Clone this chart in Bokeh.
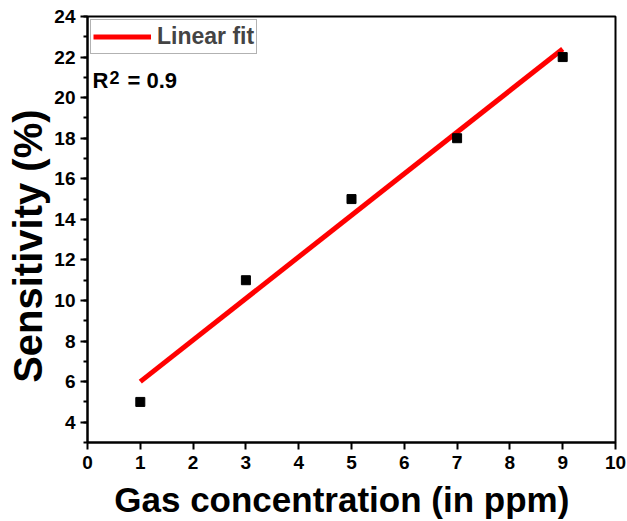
import numpy as np
from bokeh.plotting import figure
from bokeh.models import Range1d, Label, Legend, LegendItem, FixedTicker
from bokeh.embed import file_html
from bokeh.resources import INLINE

# Measured sensitivity versus gas concentration
concentration_ppm = [1, 3, 5, 7, 9]
sensitivity_pct = [5, 11, 15, 18, 22]
r_squared_text = "0.9"

x_ticks = list(range(0, 11))
y_ticks = list(range(4, 25, 2))
y_minor_ticks = list(range(3, 25, 1))

FONT = "Liberation Sans"
NBSP = "\u00a0"

p = figure(width=627, height=521, output_backend="svg", toolbar_location=None,
           x_range=Range1d(0, 10), y_range=Range1d(3, 24),
           min_border_left=87, min_border_right=12, min_border_top=16, min_border_bottom=79)
p.grid.visible = False
p.outline_line_color = "black"
p.outline_line_width = 2
p.background_fill_color = "white"
p.border_fill_color = "white"

# Least-squares linear fit through the measured points
slope, intercept = np.polyfit(concentration_ppm, sensitivity_pct, 1)
fit_x = [concentration_ppm[0], concentration_ppm[-1]]
fit_y = [slope * fx + intercept for fx in fit_x]
fit = p.line(fit_x, fit_y, line_color="#ff0000", line_width=5)

p.scatter(concentration_ppm, sensitivity_pct, marker="square", size=9,
          fill_color="black", line_color="black")

legend = Legend(items=[LegendItem(label="Linear fit", renderers=[fit])],
                location="top_left", border_line_color="#666666", border_line_width=1,
                label_text_font=FONT, label_text_font_style="bold",
                label_text_font_size="23px", glyph_width=58, glyph_height=29,
                label_height=29, padding=2, margin=3, spacing=0, label_standoff=6,
                background_fill_alpha=1.0)
p.add_layout(legend)

# R^2 annotation with a raised exponent (positions in pixels from the frame's bottom-left)
label_style = dict(x_units="screen", y_units="screen", text_font=FONT,
                   text_font_style="bold", text_color="black")
p.add_layout(Label(x=5, y=350, text="R", text_font_size="22px", **label_style))
p.add_layout(Label(x=22, y=359, text="2", text_font_size="18px", **label_style))
p.add_layout(Label(x=40, y=350, text="= " + r_squared_text, text_font_size="22px", **label_style))

for ax in (p.xaxis[0], p.yaxis[0]):
    ax.axis_line_width = 2
    ax.major_tick_line_width = 2
    ax.minor_tick_line_width = 2
    ax.major_tick_in = 0
    ax.major_tick_out = 7
    ax.minor_tick_in = 0
    ax.major_label_text_font = FONT
    ax.major_label_text_font_style = "bold"
    ax.major_label_text_font_size = "19px"
    ax.major_label_text_color = "black"
    ax.axis_label_text_font = FONT
    ax.axis_label_text_font_style = "bold"
    ax.axis_label_text_color = "black"

p.xaxis.ticker = FixedTicker(ticks=x_ticks)
p.xaxis.minor_tick_out = 0
p.xaxis.major_label_standoff = 6
# trailing no-break spaces nudge the centred title slightly to the left
p.xaxis.axis_label = "Gas concentration (in ppm)" + NBSP * 2
p.xaxis.axis_label_text_font_size = "35px"
p.xaxis.axis_label_standoff = 8

p.yaxis.ticker = FixedTicker(ticks=y_ticks, minor_ticks=y_minor_ticks)
p.yaxis.minor_tick_out = 4
p.yaxis.major_label_standoff = 5
# trailing no-break spaces nudge the centred title slightly downward
p.yaxis.axis_label = "Sensitivity (%)" + NBSP * 3
p.yaxis.axis_label_text_font_size = "40px"
p.yaxis.axis_label_standoff = 1

open("out.html", "w").write(file_html(p, INLINE))
